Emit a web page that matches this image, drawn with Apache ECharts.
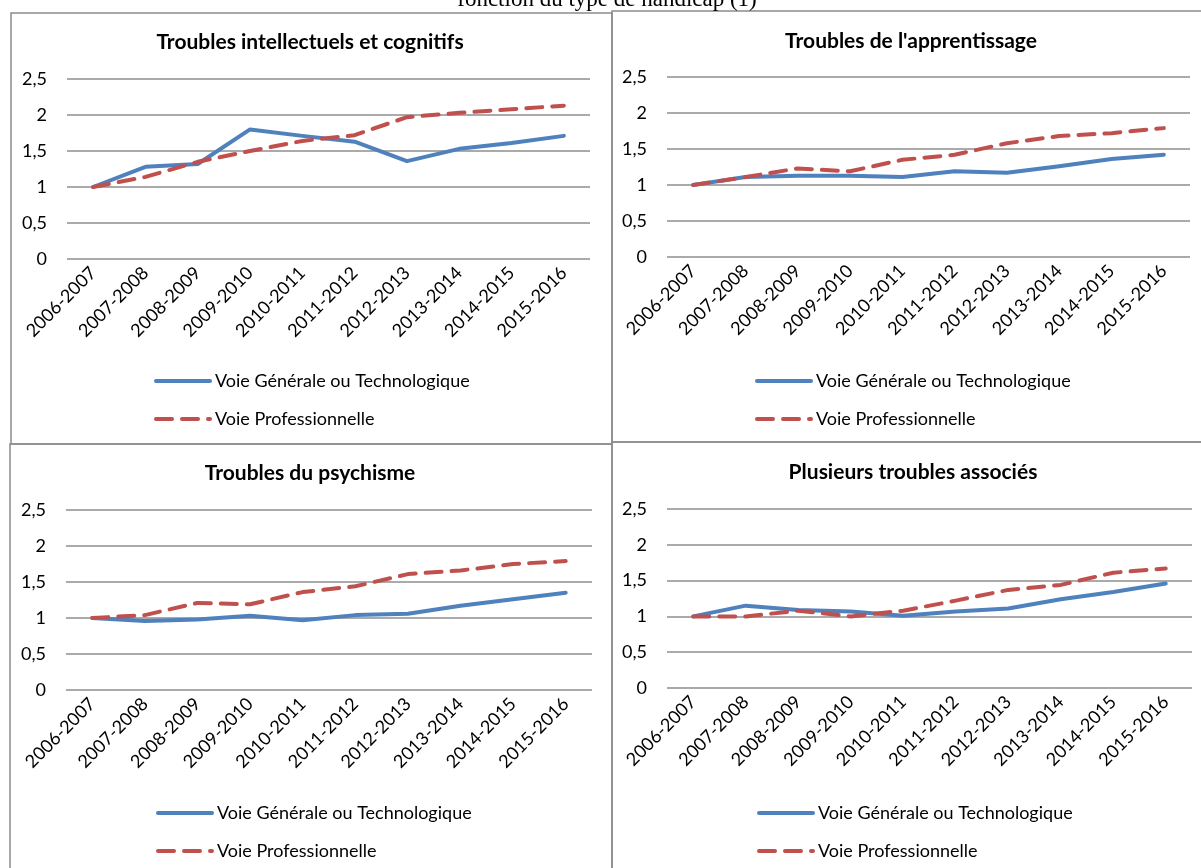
<!DOCTYPE html>
<html>
<head>
<meta charset="utf-8">
<script src="https://cdn.jsdelivr.net/npm/echarts@6/dist/echarts.min.js"></script>
<style>
html,body{margin:0;padding:0;background:#fff;}
#chart{width:1201px;height:868px;}
</style>
</head>
<body>
<div id="chart"></div>
<script>
const pageTitle = "fonction du type de handicap (1)";
const categories = ["2006-2007","2007-2008","2008-2009","2009-2010","2010-2011","2011-2012","2012-2013","2013-2014","2014-2015","2015-2016"];
const seriesNames = ["Voie Générale ou Technologique","Voie Professionnelle"];
const yTicks = [0, 0.5, 1, 1.5, 2, 2.5];

const panelTitles = ["Troubles intellectuels et cognitifs","Troubles de l'apprentissage","Troubles du psychisme","Plusieurs troubles associés"];

const intelGT  = [1.00,1.28,1.32,1.80,1.71,1.63,1.36,1.53,1.61,1.71];
const intelPro = [1.00,1.14,1.35,1.50,1.64,1.72,1.97,2.03,2.08,2.13];
const apprGT   = [1.00,1.11,1.13,1.13,1.11,1.19,1.17,1.26,1.36,1.42];
const apprPro  = [1.00,1.11,1.23,1.19,1.35,1.42,1.58,1.68,1.72,1.79];
const psyGT    = [1.00,0.96,0.98,1.03,0.97,1.04,1.06,1.17,1.26,1.35];
const psyPro   = [1.00,1.04,1.21,1.19,1.36,1.44,1.61,1.66,1.75,1.79];
const multiGT  = [1.00,1.15,1.09,1.07,1.01,1.07,1.11,1.24,1.34,1.46];
const multiPro = [1.00,1.00,1.08,1.00,1.08,1.22,1.37,1.44,1.61,1.67];

const panelData = [[intelGT,intelPro],[apprGT,apprPro],[psyGT,psyPro],[multiGT,multiPro]];

// layout (pixels)
const grids = [
  {left:67, top:79, width:523, height:180},
  {left:667, top:77, width:523, height:180},
  {left:66, top:510, width:526, height:180},
  {left:667, top:509, width:525, height:179}
];
const borders = [
  {x:11, y:13, w:601, h:431},
  {x:612, y:11, w:592, h:431},
  {x:10, y:444, w:602, h:430},
  {x:612, y:442, w:592, h:432}
];
const titlePos = [{x:310,y:42},{x:911,y:41},{x:310,y:473},{x:913,y:472}];
const legendPos = [{left:149,top:367},{left:750,top:367},{left:151,top:799},{left:752,top:799}];

const BLUE = '#4F81BD', RED = '#C0504D';
const FONT = 'Lato, Carlito, "Open Sans", sans-serif';

const chart = echarts.init(document.getElementById('chart'), null, {renderer:'canvas'});

const xAxes = [], yAxes = [], series = [], legends = [], graphics = [];

graphics.push({type:'text', x:607, y:-12, z:100,
  style:{text:pageTitle, font:'23px "Liberation Serif", "Times New Roman", serif', fill:'#000', textAlign:'center', textVerticalAlign:'top'}});

borders.forEach((b,i)=>{
  graphics.push({type:'rect', shape:{x:b.x, y:b.y, width:b.w, height:b.h}, style:{fill:'none', stroke:'#8c8c8c', lineWidth:1.5}, z:-1});
});

panelTitles.forEach((t,i)=>{
  graphics.push({type:'text', x:titlePos[i].x, y:titlePos[i].y, style:{text:t, font:'bold 21px '+FONT, fill:'#000', textAlign:'center', textVerticalAlign:'middle'}});
});

grids.forEach((g,i)=>{
  xAxes.push({type:'category', gridIndex:i, data:categories, boundaryGap:true,
    axisLine:{show:false}, axisTick:{show:false},
    axisLabel:{rotate:45, interval:0, margin:11, color:'#000', fontSize:18, fontFamily:FONT}});
  yAxes.push({type:'value', gridIndex:i, min:yTicks[0], max:yTicks[yTicks.length-1], interval:0.5,
    axisLine:{show:false}, axisTick:{show:false},
    axisLabel:{margin:20, color:'#000', fontSize:18, fontFamily:FONT, formatter:v=>String(v).replace('.',',')},
    splitLine:{show:true, lineStyle:{color:'#8e8e8e', width:1.5}}});
  const d = panelData[i];
  series.push({type:'line', name:seriesNames[0], xAxisIndex:i, yAxisIndex:i, data:d[0], symbol:'none',
    lineStyle:{color:BLUE, width:4, cap:'round', join:'round'}, itemStyle:{color:BLUE}, z:3});
  series.push({type:'line', name:seriesNames[1], xAxisIndex:i, yAxisIndex:i, data:d[1], symbol:'none',
    lineStyle:{color:RED, width:4, type:[16,10], cap:'round', join:'round'}, itemStyle:{color:RED}, z:4});
  legends.push({orient:'vertical', left:legendPos[i].left, top:legendPos[i].top, data:seriesNames,
    itemWidth:54, itemHeight:14, itemGap:20, selectedMode:false,
    itemStyle:{opacity:0},
    lineStyle:{width:4},
    textStyle:{fontSize:18, fontFamily:FONT, color:'#000', lineHeight:18}});
});

chart.setOption({
  animation:false,
  backgroundColor:'#fff',
  grid: grids,
  xAxis: xAxes,
  yAxis: yAxes,
  legend: legends,
  series: series,
  graphic: graphics
});
</script>
</body>
</html>
